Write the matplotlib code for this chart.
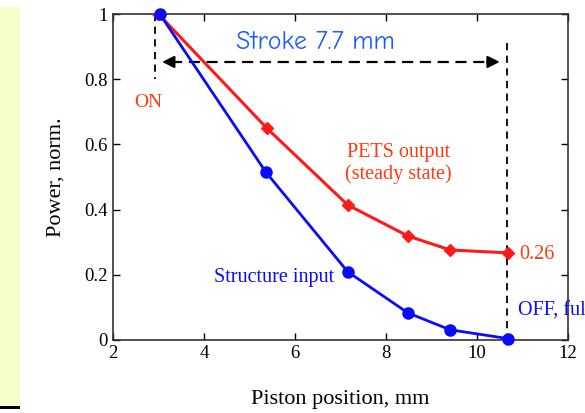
import numpy as np
import matplotlib.pyplot as plt
from matplotlib.patches import Rectangle

# data
pets_x = [3.0, 5.38, 7.16, 8.48, 9.41, 10.68]
pets_y = [1.0, 0.65, 0.414, 0.319, 0.276, 0.267]
struct_x = [3.03, 5.36, 7.16, 8.48, 9.41, 10.68]
struct_y = [1.0, 0.515, 0.209, 0.083, 0.031, 0.004]
x_ticks = [2, 4, 6, 8, 10, 12]
y_ticks = [0, 0.2, 0.4, 0.6, 0.8, 1]

x_on = 2.92
x_off = 10.66
y_arrow = 0.853

red = '#ff1a1a'
txt_red = '#ff3a10'
blue = '#0a0aff'

plt.rcParams['font.family'] = ['Liberation Serif', 'DejaVu Serif']

fig = plt.figure(figsize=(5.85, 4.13), dpi=100)
# yellow side panel
fig.patches.append(Rectangle((0, 0.012), 0.034, 0.971, transform=fig.transFigure,
                             facecolor='#f5fdc8', edgecolor='none', zorder=0))
fig.patches.append(Rectangle((0, 0.010), 0.034, 0.006, transform=fig.transFigure,
                             facecolor='black', edgecolor='none', zorder=1))

ax = fig.add_axes([0.193, 0.177, 0.778, 0.789])

ax.plot(pets_x, pets_y, color=red, lw=2.2, marker='D', ms=6, zorder=3)
ax.plot(struct_x, struct_y, color=blue, lw=2.0, marker='o', ms=8, zorder=3, clip_on=False)

# dashed markers and stroke arrow
ax.plot([x_on, x_on], [1.0, 0.8], 'k--', lw=1.3, dashes=(4, 3))
ax.plot([x_off, x_off], [0.91, 0.0], 'k--', lw=1.3, dashes=(4, 3), zorder=2)
ax.plot([x_on + 0.35, x_off - 0.35], [y_arrow, y_arrow], 'k--', lw=1.6, dashes=(5, 3))
ax.annotate('', xy=(x_on + 0.1, y_arrow), xytext=(x_on + 0.5, y_arrow),
            arrowprops=dict(arrowstyle='-|>', color='k', lw=1.5, mutation_scale=18))
ax.annotate('', xy=(x_off - 0.1, y_arrow), xytext=(x_off - 0.5, y_arrow),
            arrowprops=dict(arrowstyle='-|>', color='k', lw=1.5, mutation_scale=18))

ax.text(6.45, 0.912, 'Stroke 7.7 mm', color='#1a5cff', fontsize=18.5,
        family=['Comic Neue', 'DejaVu Sans'], ha='center', va='center')
ax.text(2.77, 0.73, 'ON', color=txt_red, fontsize=14, ha='center', va='center')
ax.text(8.27, 0.54, 'PETS output\n(steady state)', color=txt_red, fontsize=14.5,
        ha='center', va='center', linespacing=1.15)
ax.text(10.92, 0.262, '0.26', color=txt_red, fontsize=14.5, ha='left', va='center')
ax.text(4.22, 0.19, 'Structure input', color=blue, fontsize=14.5, ha='left', va='center')
ax.text(10.9, 0.088, 'OFF, full', color=blue, fontsize=14.5, ha='left', va='center',
        clip_on=False)

ax.set_xlim(2, 12)
ax.set_ylim(0, 1)
ax.set_xticks(x_ticks)
ax.set_xticklabels([str(t) for t in x_ticks])
ax.set_yticks(y_ticks)
ax.set_yticklabels(['0', '0.2', '0.4', '0.6', '0.8', '1'])
ax.tick_params(direction='in', top=True, right=True, length=5, labelsize=13.5, width=1)
for s in ax.spines.values():
    s.set_linewidth(1.2)
    s.set_color('#333333')

ax.set_xlabel('Piston position, mm', fontsize=16, labelpad=20)
ax.set_ylabel('Power, norm.', fontsize=16, labelpad=14)

fig.savefig('out.png', dpi=100)
